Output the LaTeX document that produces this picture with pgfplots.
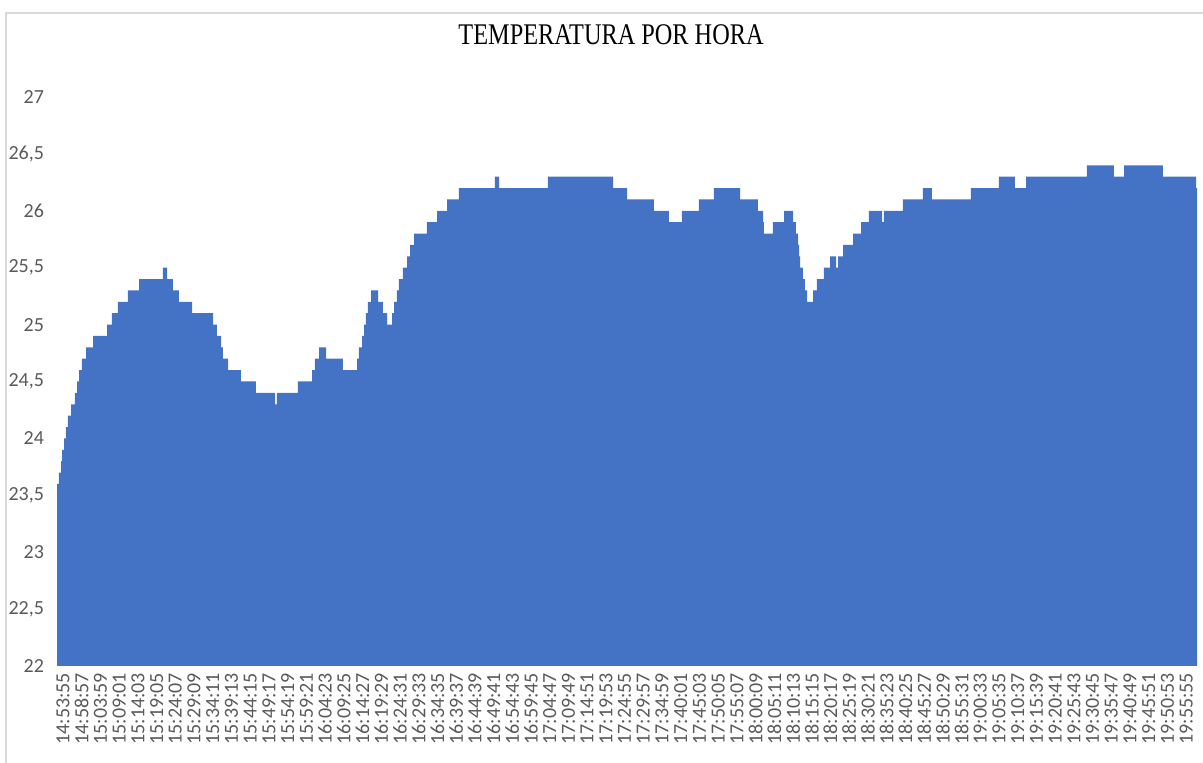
\documentclass[border=0pt]{standalone}
\usepackage{fontspec}
\setmainfont{Carlito}
\newfontfamily\titlefont{Liberation Serif}
\usepackage{pgfplots}
\pgfplotsset{compat=1.18}
\definecolor{exblue}{HTML}{4472C4}
\definecolor{lbl}{HTML}{595959}
\begin{document}
\begin{tikzpicture}
\useasboundingbox (-28.5pt,-48.5pt) rectangle (573pt,333pt);
\draw[black!15, line width=1pt] (-25.5pt,-48.5pt) -- (-25.5pt,326.5pt) -- (573pt,326.5pt);
\begin{axis}[
  at={(0,0)}, anchor=south west,
  scale only axis, width=570pt, height=284.5pt,
  xmin=0, xmax=18392, ymin=22, ymax=27,
  scaled x ticks=false,
  axis line style={draw=none},
  major tick length=0pt,
  ytick={22,22.5,...,27},
  /pgf/number format/assume math mode=true,
  /pgf/number format/use comma,
  yticklabel style={font=\fontsize{10}{12}\selectfont, color=lbl, xshift=-3pt},
  xtick={0,302,...,18120},
  xticklabels={14:53:55,14:58:57,15:03:59,15:09:01,15:14:03,15:19:05,15:24:07,15:29:09,15:34:11,15:39:13,15:44:15,15:49:17,15:54:19,15:59:21,16:04:23,16:09:25,16:14:27,16:19:29,16:24:31,16:29:33,16:34:35,16:39:37,16:44:39,16:49:41,16:54:43,16:59:45,17:04:47,17:09:49,17:14:51,17:19:53,17:24:55,17:29:57,17:34:59,17:40:01,17:45:03,17:50:05,17:55:07,18:00:09,18:05:11,18:10:13,18:15:15,18:20:17,18:25:19,18:30:21,18:35:23,18:40:25,18:45:27,18:50:29,18:55:31,19:00:33,19:05:35,19:10:37,19:15:39,19:20:41,19:25:43,19:30:45,19:35:47,19:40:49,19:45:51,19:50:53,19:55:55},
  xticklabel style={font=\fontsize{10}{12}\selectfont, color=lbl, rotate=90, anchor=east, yshift=-3pt},
  title={\titlefont\fontsize{15}{18}\selectfont\scalebox{0.81}[1]{TEMPERATURA POR HORA}},
  title style={at={(axis description cs:0.486,1)}, anchor=center, yshift=25pt},
]
\addplot[const plot mark left, fill=exblue, draw=none] coordinates {
(0,23.6) (32,23.7) (65,23.8) (81,23.9) (113,24.0) (145,24.1) (177,24.2) (226,24.3)
(290,24.4) (323,24.5) (355,24.6) (403,24.7) (468,24.8) (581,24.9) (807,25.0) (887,25.1)
(984,25.2) (1145,25.3) (1323,25.4) (1710,25.5) (1775,25.4) (1871,25.3) (1968,25.2) (2178,25.1)
(2517,25.0) (2581,24.9) (2646,24.8) (2678,24.7) (2759,24.6) (2968,24.5) (3210,24.4) (3517,24.3)
(3549,24.4) (3888,24.5) (4114,24.6) (4162,24.7) (4227,24.8) (4340,24.7) (4614,24.6) (4840,24.7)
(4872,24.8) (4921,24.9) (4953,25.0) (4985,25.1) (5017,25.2) (5066,25.3) (5179,25.2) (5259,25.1)
(5324,25.0) (5405,25.1) (5437,25.2) (5485,25.3) (5517,25.4) (5582,25.5) (5647,25.6) (5695,25.7)
(5760,25.8) (5969,25.9) (6131,26.0) (6292,26.1) (6485,26.2) (7066,26.3) (7131,26.2) (7921,26.3)
(8970,26.2) (9196,26.1) (9631,26.0) (9873,25.9) (10083,26.0) (10357,26.1) (10599,26.2) (11019,26.1)
(11309,26.0) (11390,25.9) (11406,25.8) (11551,25.9) (11729,26.0) (11874,25.9) (11922,25.8) (11955,25.7)
(11971,25.6) (11987,25.5) (12035,25.4) (12067,25.3) (12100,25.2) (12197,25.3) (12261,25.4) (12374,25.5)
(12471,25.6) (12568,25.5) (12600,25.6) (12681,25.7) (12842,25.8) (12971,25.9) (13100,26.0) (13310,25.9)
(13342,26.0) (13648,26.1) (13971,26.2) (14116,26.1) (14745,26.2) (15197,26.3) (15455,26.2) (15633,26.3)
(16617,26.4) (17052,26.3) (17214,26.4) (17843,26.3) (18376,26.2) (18392,26.2)
} \closedcycle;
\end{axis}
\end{tikzpicture}
\end{document}
